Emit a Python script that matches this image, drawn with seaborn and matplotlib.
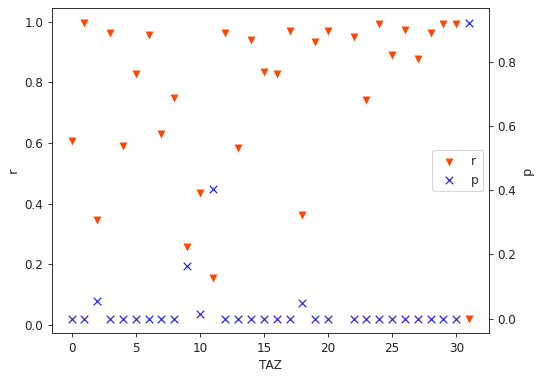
import numpy as np
import pandas as pd
import matplotlib
matplotlib.use("Agg")
import matplotlib.pyplot as plt
import seaborn as sns

taz = [0, 1, 2, 3, 4, 5, 6, 7, 8, 9, 10, 11, 12, 13, 14, 15, 16, 17, 18, 19, 20,
       22, 23, 24, 25, 26, 27, 28, 29, 30, 31]
r_vals = [0.607, 0.997, 0.347, 0.963, 0.590, 0.829, 0.958, 0.629, 0.748, 0.257,
          0.435, 0.156, 0.963, 0.585, 0.940, 0.833, 0.829, 0.971, 0.361, 0.935,
          0.970, 0.950, 0.743, 0.992, 0.891, 0.973, 0.879, 0.963, 0.994, 0.994,
          0.021]
p_vals = [0.0, 0.0, 0.056, 0.0, 0.0, 0.0, 0.0, 0.0, 0.0, 0.163, 0.015, 0.403,
          0.0, 0.0, 0.0, 0.0, 0.0, 0.0, 0.047, 0.0, 0.0, 0.0, 0.0, 0.0, 0.0,
          0.0, 0.0, 0.0, 0.0, 0.0, 0.923]

df = pd.DataFrame({"TAZ": taz, "r": r_vals, "p": p_vals})

sns.set_style("ticks")
plt.rcParams["font.family"] = ["DejaVu Sans"]
plt.rcParams["axes.linewidth"] = 0.8

DPI = 86
fig, ax = plt.subplots(figsize=(550 / DPI, 379 / DPI), dpi=DPI)
fig.subplots_adjust(left=0.094, right=0.889, top=0.979, bottom=0.1205)

sns.scatterplot(data=df, x="TAZ", y="r", ax=ax, marker="v", color="orangered",
                s=44, linewidth=0, label="r", legend=False)
ax2 = ax.twinx()
sns.scatterplot(data=df, x="TAZ", y="p", ax=ax2, marker="x", color="#1f1fe0",
                s=40, linewidth=1.0, label="p", legend=False)

for a in (ax, ax2):
    lg = a.get_legend()
    if lg is not None:
        lg.remove()

ax.set_xlabel("TAZ", fontsize=10)
ax.set_ylabel("r", fontsize=11)
ax2.set_ylabel("p", fontsize=11)
ax.set_xticks([0, 5, 10, 15, 20, 25, 30])
ax.set_yticks([0.0, 0.2, 0.4, 0.6, 0.8, 1.0])
ax2.set_yticks([0.0, 0.2, 0.4, 0.6, 0.8])
ax.tick_params(labelsize=10, length=3.5, width=0.8, colors="#333333", labelcolor="#222222")
ax2.tick_params(labelsize=10, length=3.5, width=0.8, colors="#333333", labelcolor="#222222")
for a in (ax, ax2):
    for s in a.spines.values():
        s.set_visible(True)
        s.set_color("#333333")

h1, l1 = ax.get_legend_handles_labels()
h2, l2 = ax2.get_legend_handles_labels()
ax2.legend(h1 + h2, l1 + l2, loc="center right", fontsize=10, frameon=True,
           framealpha=0.8, edgecolor="#cccccc", fancybox=True)

fig.savefig("out.png", dpi=DPI)
